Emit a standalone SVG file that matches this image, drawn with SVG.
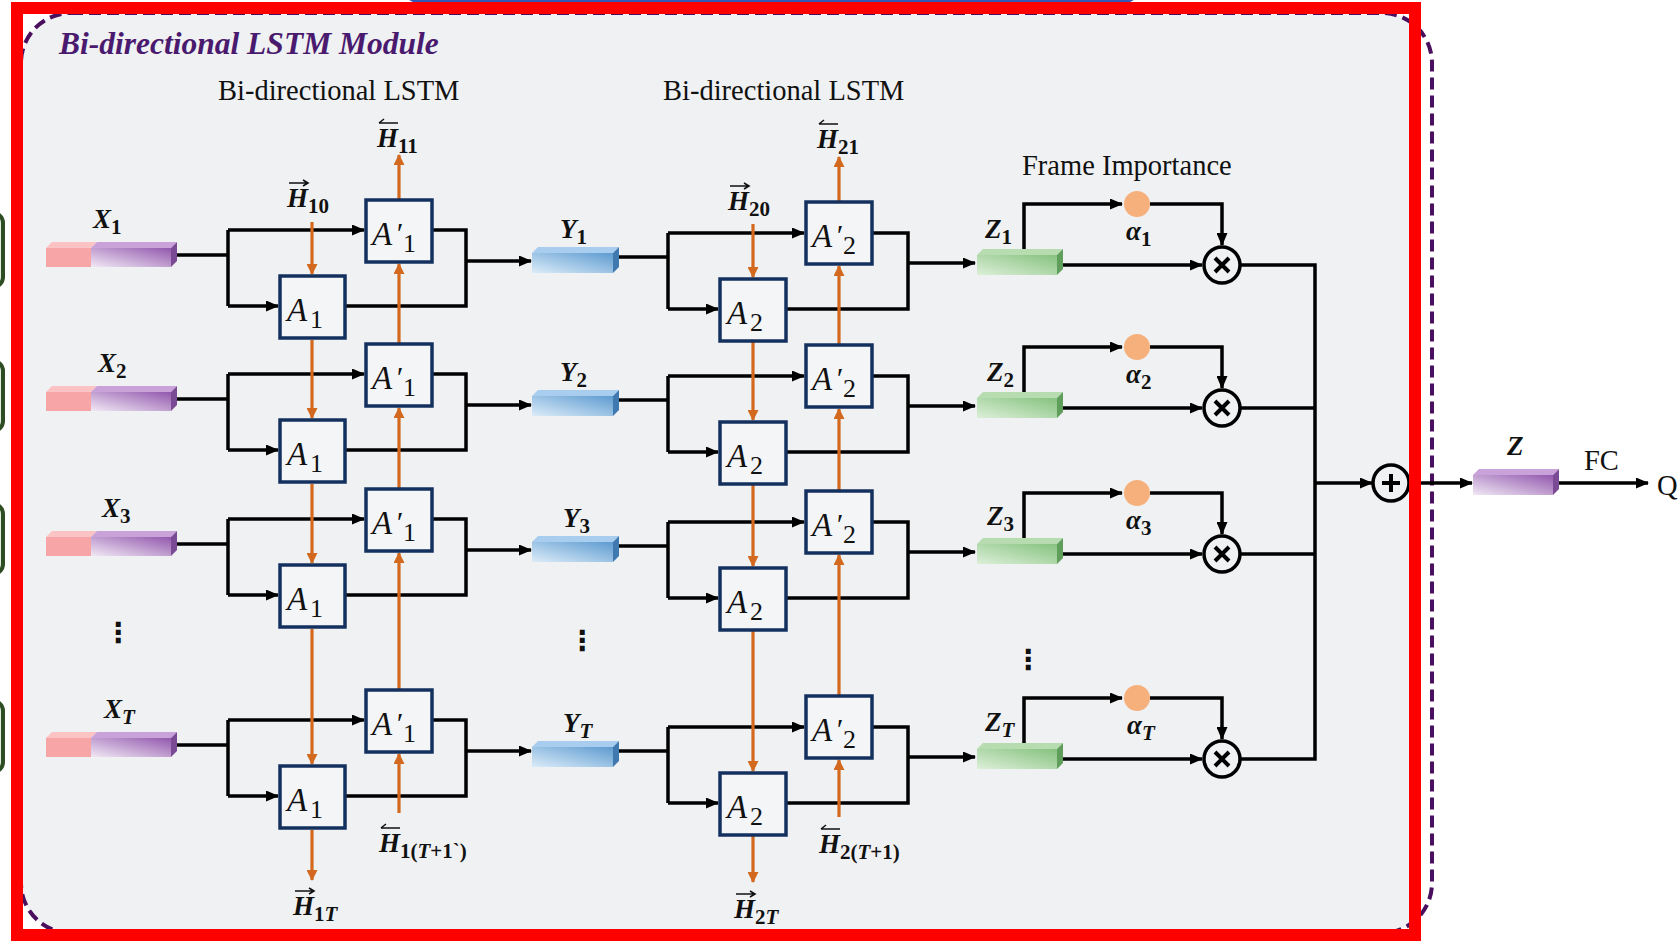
<svg xmlns="http://www.w3.org/2000/svg" xmlns:xlink="http://www.w3.org/1999/xlink" width="1680" height="941" viewBox="0 0 1680 941">
<style>
.ln{stroke:#000;stroke-width:3.5;fill:none}
.or{stroke:#d2691e;stroke-width:3.2;fill:none}
.box{fill:#f4f5f7;stroke:#14305f;stroke-width:3.5}
.m{font-family:"Liberation Serif",serif;font-weight:bold;font-style:italic;font-size:27px;fill:#111}
.s{font-size:21px}
.up{font-style:normal}
.A{font-family:"Liberation Serif",serif;font-style:italic;font-size:33px;fill:#111}
.pr{font-style:italic;font-size:30px}
.as{font-style:normal;font-size:26px}
.t{font-family:"Liberation Serif",serif;font-size:28.5px;fill:#111}
.hv{stroke:#111;stroke-width:1.6;fill:none}
.dots{font-family:"DejaVu Sans",sans-serif;font-weight:bold;font-size:28px;fill:#111}
</style>
<defs>
<linearGradient id="gX" x1="0" y1="1" x2="1" y2="0"><stop offset="0" stop-color="#f1e8f5"/><stop offset="1" stop-color="#9258ad"/></linearGradient>
<linearGradient id="gY" x1="0" y1="1" x2="1" y2="0"><stop offset="0" stop-color="#dcecf9"/><stop offset="1" stop-color="#5d9bd0"/></linearGradient>
<linearGradient id="gZ" x1="0" y1="1" x2="1" y2="0"><stop offset="0" stop-color="#dcefd8"/><stop offset="1" stop-color="#86c27f"/></linearGradient>
<marker id="ab" markerWidth="13" markerHeight="11" refX="12" refY="5.5" orient="auto" markerUnits="userSpaceOnUse"><path d="M0,0 L13,5.5 L0,11 z" fill="#000"/></marker>
<marker id="ao" markerWidth="11" markerHeight="11" refX="10" refY="5.5" orient="auto" markerUnits="userSpaceOnUse"><path d="M0,0 L11,5.5 L0,11 z" fill="#d2691e"/></marker>
<clipPath id="inner"><rect x="0" y="0" width="1415" height="941"/></clipPath>
<g id="xbar">
<polygon points="0,0 6,-6 51,-6 45,0" fill="#fbc3c3"/>
<polygon points="45,0 51,-6 131,-6 125,0" fill="#c9a2da"/>
<rect x="0" y="0" width="45" height="19" fill="#f7a5a7"/>
<rect x="45" y="0" width="80" height="19" fill="url(#gX)"/>
<polygon points="125,0 131,-6 131,13 125,19" fill="#7a4a94"/>
</g>
<g id="ybar">
<polygon points="0,0 6,-6 87,-6 81,0" fill="#a8cdee"/>
<rect x="0" y="0" width="81" height="20" fill="url(#gY)"/>
<polygon points="81,0 87,-6 87,14 81,20" fill="#3f79b0"/>
</g>
<g id="zbar">
<polygon points="0,0 6,-6 86,-6 80,0" fill="#b6dcb0"/>
<rect x="0" y="0" width="80" height="20" fill="url(#gZ)"/>
<polygon points="80,0 86,-6 86,14 80,20" fill="#5f9e5b"/>
</g>
<g id="fbar">
<polygon points="0,0 6,-6 86,-6 80,0" fill="#c9a2da"/>
<rect x="0" y="0" width="80" height="20" fill="url(#gX)"/>
<polygon points="80,0 86,-6 86,14 80,20" fill="#7a4a94"/>
</g>
</defs>
<rect x="0" y="0" width="1680" height="941" fill="#ffffff"/>
<g id="fragments">
<rect x="405" y="-40" width="733" height="41" rx="12" fill="none" stroke="#3358b5" stroke-width="3"/>
<rect x="-40" y="213" width="43" height="74" rx="10" fill="#dfeedd" stroke="#2e4d22" stroke-width="4"/>
<rect x="-40" y="361" width="43" height="70" rx="10" fill="#dfeedd" stroke="#2e4d22" stroke-width="4"/>
<rect x="-40" y="504" width="43" height="70" rx="10" fill="#dfeedd" stroke="#2e4d22" stroke-width="4"/>
<rect x="-40" y="701" width="43" height="71" rx="10" fill="#dfeedd" stroke="#2e4d22" stroke-width="4"/>
</g>
<g id="module-frame">
<rect x="21" y="13" width="1411" height="920" rx="50" fill="#f0f1f3" clip-path="url(#inner)"/>
<rect x="21" y="13" width="1411" height="920" rx="50" fill="none" stroke="#4a0f5e" stroke-width="4" stroke-dasharray="12 6"/>
</g>
<g id="titles">
<text x="59" y="54" font-family="Liberation Serif, serif" font-weight="bold" font-style="italic" font-size="31.5" fill="#4a1a6e">Bi-directional LSTM Module</text>
<text class="t" x="218" y="100">Bi-directional LSTM</text>
<text class="t" x="663" y="100">Bi-directional LSTM</text>
<text class="t" x="1022" y="175">Frame Importance</text>
</g>
<g id="connectors">
<path class="ln" d="M177,255 H228 M228,230 V306 M432,230 H466 V306 H345 M177,399 H228 M228,374 V450 M432,374 H466 V450 H345 M177,544 H228 M228,519 V595 M432,519 H466 V595 H345 M177,745 H228 M228,720 V796 M432,720 H466 V796 H345"/>
<path class="ln" marker-end="url(#ab)" d="M228,230 H364"/>
<path class="ln" marker-end="url(#ab)" d="M228,306 H278"/>
<path class="ln" marker-end="url(#ab)" d="M466,261 H531"/>
<path class="ln" marker-end="url(#ab)" d="M228,374 H364"/>
<path class="ln" marker-end="url(#ab)" d="M228,450 H278"/>
<path class="ln" marker-end="url(#ab)" d="M466,405 H531"/>
<path class="ln" marker-end="url(#ab)" d="M228,519 H364"/>
<path class="ln" marker-end="url(#ab)" d="M228,595 H278"/>
<path class="ln" marker-end="url(#ab)" d="M466,550 H531"/>
<path class="ln" marker-end="url(#ab)" d="M228,720 H364"/>
<path class="ln" marker-end="url(#ab)" d="M228,796 H278"/>
<path class="ln" marker-end="url(#ab)" d="M466,751 H531"/>
<path class="ln" d="M619,257 H668 M668,233 V309 M872,233 H908 V309 H786 M619,400 H668 M668,376 V452 M872,376 H908 V452 H786 M619,546 H668 M668,522 V598 M872,522 H908 V598 H786 M619,751 H668 M668,727 V803 M872,727 H908 V803 H786"/>
<path class="ln" marker-end="url(#ab)" d="M668,233 H804"/>
<path class="ln" marker-end="url(#ab)" d="M668,309 H718"/>
<path class="ln" marker-end="url(#ab)" d="M908,263 H975"/>
<path class="ln" marker-end="url(#ab)" d="M668,376 H804"/>
<path class="ln" marker-end="url(#ab)" d="M668,452 H718"/>
<path class="ln" marker-end="url(#ab)" d="M908,406 H975"/>
<path class="ln" marker-end="url(#ab)" d="M668,522 H804"/>
<path class="ln" marker-end="url(#ab)" d="M668,598 H718"/>
<path class="ln" marker-end="url(#ab)" d="M908,552 H975"/>
<path class="ln" marker-end="url(#ab)" d="M668,727 H804"/>
<path class="ln" marker-end="url(#ab)" d="M668,803 H718"/>
<path class="ln" marker-end="url(#ab)" d="M908,757 H975"/>
<path class="ln" marker-end="url(#ab)" d="M1024,249 V204 H1122"/>
<path class="ln" marker-end="url(#ab)" d="M1150,204 H1222 V245"/>
<path class="ln" marker-end="url(#ab)" d="M1063,265 H1202"/>
<path class="ln" marker-end="url(#ab)" d="M1024,392 V347 H1122"/>
<path class="ln" marker-end="url(#ab)" d="M1150,347 H1222 V388"/>
<path class="ln" marker-end="url(#ab)" d="M1063,408 H1202"/>
<path class="ln" marker-end="url(#ab)" d="M1024,538 V493 H1122"/>
<path class="ln" marker-end="url(#ab)" d="M1150,493 H1222 V534"/>
<path class="ln" marker-end="url(#ab)" d="M1063,554 H1202"/>
<path class="ln" marker-end="url(#ab)" d="M1024,743 V698 H1122"/>
<path class="ln" marker-end="url(#ab)" d="M1150,698 H1222 V739"/>
<path class="ln" marker-end="url(#ab)" d="M1063,759 H1202"/>
<path class="ln" d="M1240,265 H1315 M1240,408 H1315 M1240,554 H1315 M1240,759 H1315 M1315,263.25 V760.75"/>
<path class="ln" marker-end="url(#ab)" d="M1315,483 H1372"/>
<path class="ln" marker-end="url(#ab)" d="M1409,483 H1472"/>
<path class="ln" marker-end="url(#ab)" d="M1559,483 H1648"/>
<path class="or" marker-end="url(#ao)" d="M312,222 V274"/>
<path class="or" marker-end="url(#ao)" d="M312,340 V418"/>
<path class="or" marker-end="url(#ao)" d="M312,484 V563"/>
<path class="or" marker-end="url(#ao)" d="M312,629 V764"/>
<path class="or" marker-end="url(#ao)" d="M312,830 V880"/>
<path class="or" marker-end="url(#ao)" d="M399,813 V754"/>
<path class="or" marker-end="url(#ao)" d="M399,690 V553"/>
<path class="or" marker-end="url(#ao)" d="M399,489 V408"/>
<path class="or" marker-end="url(#ao)" d="M399,344 V264"/>
<path class="or" marker-end="url(#ao)" d="M399,200 V155"/>
<path class="or" marker-end="url(#ao)" d="M753,224 V277"/>
<path class="or" marker-end="url(#ao)" d="M753,341 V420"/>
<path class="or" marker-end="url(#ao)" d="M753,484 V566"/>
<path class="or" marker-end="url(#ao)" d="M753,630 V771"/>
<path class="or" marker-end="url(#ao)" d="M753,835 V882"/>
<path class="or" marker-end="url(#ao)" d="M839,817 V760"/>
<path class="or" marker-end="url(#ao)" d="M839,696 V555"/>
<path class="or" marker-end="url(#ao)" d="M839,491 V409"/>
<path class="or" marker-end="url(#ao)" d="M839,345 V266"/>
<path class="or" marker-end="url(#ao)" d="M839,202 V157"/>
</g>
<g id="inputs">
<use xlink:href="#xbar" x="46" y="248"/>
<use xlink:href="#xbar" x="46" y="392"/>
<use xlink:href="#xbar" x="46" y="537"/>
<use xlink:href="#xbar" x="46" y="738"/>
<text class="m" x="93" y="228">X<tspan class="s up" dy="6">1</tspan></text>
<text class="m" x="98" y="372">X<tspan class="s up" dy="6">2</tspan></text>
<text class="m" x="102" y="517">X<tspan class="s up" dy="6">3</tspan></text>
<text class="m" x="104" y="718">X<tspan class="s" dy="6">T</tspan></text>
<text class="dots" x="104" y="642">⋮</text>
</g>
<g id="lstm1">
<rect class="box" x="366" y="200" width="66" height="62"/>
<rect class="box" x="280" y="276" width="65" height="62"/>
<rect class="box" x="366" y="344" width="66" height="62"/>
<rect class="box" x="280" y="420" width="65" height="62"/>
<rect class="box" x="366" y="489" width="66" height="62"/>
<rect class="box" x="280" y="565" width="65" height="62"/>
<rect class="box" x="366" y="690" width="66" height="62"/>
<rect class="box" x="280" y="766" width="65" height="62"/>
<text class="A" x="372" y="245">A<tspan class="pr" x="395" y="243">′</tspan><tspan class="as" x="403" y="252">1</tspan></text>
<text class="A" x="287" y="321">A<tspan class="as" x="310" y="328">1</tspan></text>
<text class="A" x="372" y="389">A<tspan class="pr" x="395" y="387">′</tspan><tspan class="as" x="403" y="396">1</tspan></text>
<text class="A" x="287" y="465">A<tspan class="as" x="310" y="472">1</tspan></text>
<text class="A" x="372" y="534">A<tspan class="pr" x="395" y="532">′</tspan><tspan class="as" x="403" y="541">1</tspan></text>
<text class="A" x="287" y="610">A<tspan class="as" x="310" y="617">1</tspan></text>
<text class="A" x="372" y="735">A<tspan class="pr" x="395" y="733">′</tspan><tspan class="as" x="403" y="742">1</tspan></text>
<text class="A" x="287" y="811">A<tspan class="as" x="310" y="818">1</tspan></text>
</g>
<g id="hidden1">
<text class="m" font-size="26" x="287" y="207">H<tspan class="s up" dy="6">10</tspan></text>
<path class="hv" d="M289,183 H308 M303,180 L308,183 L303,186"/>
<text class="m" font-size="26" x="377" y="147">H<tspan class="s up" dy="6">11</tspan></text>
<path class="hv" d="M379,123 H398 M384,119 L379,123"/>
<text class="m" font-size="26" x="293" y="915">H<tspan class="s up" dy="6">1</tspan><tspan class="s">T</tspan></text>
<path class="hv" d="M295,891 H314 M309,888 L314,891 L309,894"/>
<text class="m" font-size="26" x="379" y="852">H<tspan class="s up" dy="6">1(</tspan><tspan class="s">T</tspan><tspan class="s up">+1`)</tspan></text>
<path class="hv" d="M381,828 H400 M386,824 L381,828"/>
</g>
<g id="mid">
<use xlink:href="#ybar" x="532" y="253"/>
<use xlink:href="#ybar" x="532" y="396"/>
<use xlink:href="#ybar" x="532" y="542"/>
<use xlink:href="#ybar" x="532" y="747"/>
<text class="m" x="560" y="238">Y<tspan class="s up" dy="6">1</tspan></text>
<text class="m" x="560" y="381">Y<tspan class="s up" dy="6">2</tspan></text>
<text class="m" x="563" y="527">Y<tspan class="s up" dy="6">3</tspan></text>
<text class="m" x="563" y="732">Y<tspan class="s" dy="6">T</tspan></text>
<text class="dots" x="568" y="650">⋮</text>
</g>
<g id="lstm2">
<rect class="box" x="806" y="202" width="66" height="62"/>
<rect class="box" x="720" y="279" width="66" height="62"/>
<rect class="box" x="806" y="345" width="66" height="62"/>
<rect class="box" x="720" y="422" width="66" height="62"/>
<rect class="box" x="806" y="491" width="66" height="62"/>
<rect class="box" x="720" y="568" width="66" height="62"/>
<rect class="box" x="806" y="696" width="66" height="62"/>
<rect class="box" x="720" y="773" width="66" height="62"/>
<text class="A" x="812" y="247">A<tspan class="pr" x="835" y="245">′</tspan><tspan class="as" x="843" y="254">2</tspan></text>
<text class="A" x="727" y="324">A<tspan class="as" x="750" y="331">2</tspan></text>
<text class="A" x="812" y="390">A<tspan class="pr" x="835" y="388">′</tspan><tspan class="as" x="843" y="397">2</tspan></text>
<text class="A" x="727" y="467">A<tspan class="as" x="750" y="474">2</tspan></text>
<text class="A" x="812" y="536">A<tspan class="pr" x="835" y="534">′</tspan><tspan class="as" x="843" y="543">2</tspan></text>
<text class="A" x="727" y="613">A<tspan class="as" x="750" y="620">2</tspan></text>
<text class="A" x="812" y="741">A<tspan class="pr" x="835" y="739">′</tspan><tspan class="as" x="843" y="748">2</tspan></text>
<text class="A" x="727" y="818">A<tspan class="as" x="750" y="825">2</tspan></text>
</g>
<g id="hidden2">
<text class="m" font-size="26" x="728" y="210">H<tspan class="s up" dy="6">20</tspan></text>
<path class="hv" d="M730,186 H749 M744,183 L749,186 L744,189"/>
<text class="m" font-size="26" x="817" y="148">H<tspan class="s up" dy="6">21</tspan></text>
<path class="hv" d="M819,124 H838 M824,120 L819,124"/>
<text class="m" font-size="26" x="734" y="918">H<tspan class="s up" dy="6">2</tspan><tspan class="s">T</tspan></text>
<path class="hv" d="M736,894 H755 M750,891 L755,894 L750,897"/>
<text class="m" font-size="26" x="819" y="853">H<tspan class="s up" dy="6">2(</tspan><tspan class="s">T</tspan><tspan class="s up">+1)</tspan></text>
<path class="hv" d="M821,829 H840 M826,825 L821,829"/>
</g>
<g id="attention">
<use xlink:href="#zbar" x="977" y="255"/>
<use xlink:href="#zbar" x="977" y="398"/>
<use xlink:href="#zbar" x="977" y="544"/>
<use xlink:href="#zbar" x="977" y="749"/>
<text class="m" x="985" y="238">Z<tspan class="s up" dy="6">1</tspan></text>
<text class="m" x="987" y="381">Z<tspan class="s up" dy="6">2</tspan></text>
<text class="m" x="987" y="525">Z<tspan class="s up" dy="6">3</tspan></text>
<text class="m" x="985" y="731">Z<tspan class="s" dy="6">T</tspan></text>
<text class="dots" x="1014" y="669">⋮</text>
<circle cx="1137" cy="204" r="13" fill="#f6b07c"/>
<circle cx="1137" cy="347" r="13" fill="#f6b07c"/>
<circle cx="1137" cy="493" r="13" fill="#f6b07c"/>
<circle cx="1137" cy="698" r="13" fill="#f6b07c"/>
<text class="m" x="1126" y="240">α<tspan class="s up" dy="6">1</tspan></text>
<text class="m" x="1126" y="383">α<tspan class="s up" dy="6">2</tspan></text>
<text class="m" x="1126" y="529">α<tspan class="s up" dy="6">3</tspan></text>
<text class="m" x="1127" y="734">α<tspan class="s" dy="6">T</tspan></text>
</g>
<g id="mult" fill="none" stroke="#000" stroke-width="3.5">
<circle cx="1222" cy="265" r="18"/>
<circle cx="1222" cy="408" r="18"/>
<circle cx="1222" cy="554" r="18"/>
<circle cx="1222" cy="759" r="18"/>
<path stroke-width="4" d="M1215,258 L1229,272 M1229,258 L1215,272 M1215,401 L1229,415 M1229,401 L1215,415 M1215,547 L1229,561 M1229,547 L1215,561 M1215,752 L1229,766 M1229,752 L1215,766"/>
</g>
<g id="sum" fill="none" stroke="#000" stroke-width="3.5">
<circle cx="1391" cy="483" r="18"/>
<path stroke-width="4" d="M1382,483 H1400 M1391,474 V492"/>
</g>
<g id="frame-red">
<rect x="17" y="8" width="1398" height="927" fill="none" stroke="#ff0000" stroke-width="12"/>
</g>
<g id="output">
<use xlink:href="#fbar" x="1473" y="475"/>
<text class="m" x="1507" y="455">Z</text>
<text class="t" x="1584" y="470" font-size="28">FC</text>
<text class="t" x="1657" y="495" font-size="28">Q</text>
</g>
</svg>
